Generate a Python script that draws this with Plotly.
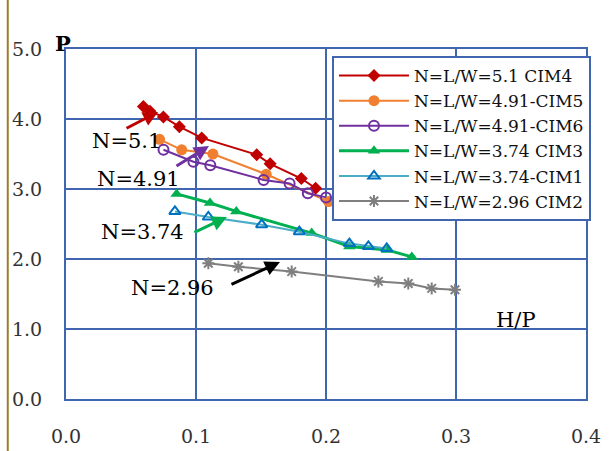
import plotly.graph_objects as go

# ---- data ----
x_cim4 = [0.0595, 0.0646, 0.0749, 0.0872, 0.1044, 0.1467, 0.157, 0.181, 0.192]
y_cim4 = [4.18, 4.11, 4.03, 3.89, 3.73, 3.49, 3.36, 3.15, 3.01]

x_cim5 = [0.072, 0.089, 0.113, 0.154, 0.202]
y_cim5 = [3.71, 3.56, 3.50, 3.21, 2.82]

x_cim6 = [0.075, 0.098, 0.111, 0.152, 0.172, 0.186, 0.200]
y_cim6 = [3.56, 3.39, 3.34, 3.13, 3.08, 2.94, 2.88]

x_cim3 = [0.0851, 0.1108, 0.131, 0.189, 0.218, 0.247, 0.266]
y_cim3 = [2.93, 2.80, 2.68, 2.37, 2.18, 2.13, 2.03]

x_cim1 = [0.0838, 0.1095, 0.1505, 0.1795, 0.218, 0.2326, 0.2467]
y_cim1 = [2.68, 2.60, 2.49, 2.39, 2.22, 2.18, 2.15]

x_cim2 = [0.1095, 0.1326, 0.1736, 0.2403, 0.2633, 0.2813, 0.2992]
y_cim2 = [1.94, 1.89, 1.82, 1.68, 1.65, 1.58, 1.56]

names = ["N=L/W=5.1 CIM4", "N=L/W=4.91-CIM5", "N=L/W=4.91-CIM6",
         "N=L/W=3.74 CIM3", "N=L/W=3.74-CIM1", "N=L/W=2.96 CIM2"]

x_ticks = [0.0, 0.1, 0.2, 0.3, 0.4]
y_ticks = [0.0, 1.0, 2.0, 3.0, 4.0, 5.0]

# label annotations: (text, x, y)
labels = [("N=5.1", 0.0462, 3.686), ("N=4.91", 0.0554, 3.143),
          ("N=3.74", 0.0588, 2.39), ("N=2.96", 0.0819, 1.586)]
# arrows: (head x, head y, tail offset px dx, dy, color)
arrows = [(0.0708, 4.10, -33, 17, "#c00000"), (0.110, 3.614, -34, 21, "#7030a0"),
          (0.1238, 2.60, -34, 16, "#00b050"), (0.1646, 1.957, -50, 23, "#000000")]

SERIF = "DejaVu Serif"
GRID = "#4066b0"

fig = go.Figure()
fig.add_trace(go.Scatter(x=x_cim4, y=y_cim4, name=names[0], mode="lines+markers",
                         line=dict(color="#c00000", width=2),
                         marker=dict(symbol="diamond", size=10, color="#c00000")))
fig.add_trace(go.Scatter(x=x_cim5, y=y_cim5, name=names[1], mode="lines+markers",
                         line=dict(color="#f08030", width=2),
                         marker=dict(symbol="circle", size=11, color="#f08030")))
fig.add_trace(go.Scatter(x=x_cim6, y=y_cim6, name=names[2], mode="lines+markers",
                         line=dict(color="#7030a0", width=2),
                         marker=dict(symbol="circle-open", size=10, color="#7030a0",
                                     line=dict(width=2))))
fig.add_trace(go.Scatter(x=x_cim3, y=y_cim3, name=names[3], mode="lines+markers",
                         line=dict(color="#00b050", width=3),
                         marker=dict(symbol="triangle-up", size=11, color="#00b050")))
fig.add_trace(go.Scatter(x=x_cim1, y=y_cim1, name=names[4], mode="lines+markers",
                         line=dict(color="#4bacc6", width=2),
                         marker=dict(symbol="triangle-up-open", size=10, color="#0070c0",
                                     line=dict(width=2))))
fig.add_trace(go.Scatter(x=x_cim2, y=y_cim2, name=names[5], mode="lines+markers",
                         line=dict(color="#7f7f7f", width=2),
                         marker=dict(symbol="asterisk-open", size=10, color="#7f7f7f",
                                     line=dict(width=2, color="#7f7f7f"))))

for t, x, y in labels:
    fig.add_annotation(x=x, y=y, text=t, showarrow=False,
                       font=dict(family=SERIF, size=21, color="#000"))
for x, y, dx, dy, c in arrows:
    fig.add_annotation(x=x, y=y, ax=dx, ay=dy, text="", showarrow=True,
                       arrowhead=2, arrowsize=1, arrowwidth=3, arrowcolor=c)

fig.add_annotation(xref="paper", yref="paper", x=-0.006, y=1.015, text="<b>P</b>",
                   xanchor="center", yanchor="middle",
                   showarrow=False, font=dict(family=SERIF, size=21, color="#000"))
fig.add_annotation(xref="paper", yref="paper", x=0.865, y=0.225, text="H/P",
                   xanchor="center", yanchor="middle",
                   showarrow=False, font=dict(family=SERIF, size=21, color="#000"))

# image frame artifact
fig.add_shape(type="line", xref="paper", yref="paper", x0=-0.112, x1=-0.112,
              y0=-0.15, y1=1.14, line=dict(color="#9c7b2e", width=2))

axis_common = dict(showline=True, mirror=True, linecolor=GRID, linewidth=2,
                   showgrid=True, gridcolor=GRID, gridwidth=2, zeroline=False,
                   ticks="", tickformat=".1f", automargin=False,
                   tickfont=dict(family=SERIF, size=19, color="#333"))
fig.update_xaxes(range=[0, 0.4], tickvals=x_ticks, ticklabelstandoff=19, **axis_common)
fig.update_yaxes(range=[0, 5], tickvals=y_ticks, ticklabelstandoff=18, **axis_common)

fig.update_layout(
    width=614, height=451,
    margin=dict(l=66, r=28, t=49, b=52, autoexpand=False),
    plot_bgcolor="white", paper_bgcolor="white",
    showlegend=True,
    legend=dict(x=0.5115, y=0.98, xanchor="left", yanchor="top",
                bgcolor="white", bordercolor=GRID, borderwidth=2,
                font=dict(family=SERIF, size=17, color="#111"),
                itemwidth=70, tracegroupgap=0),
)

fig.write_html("out.html")
